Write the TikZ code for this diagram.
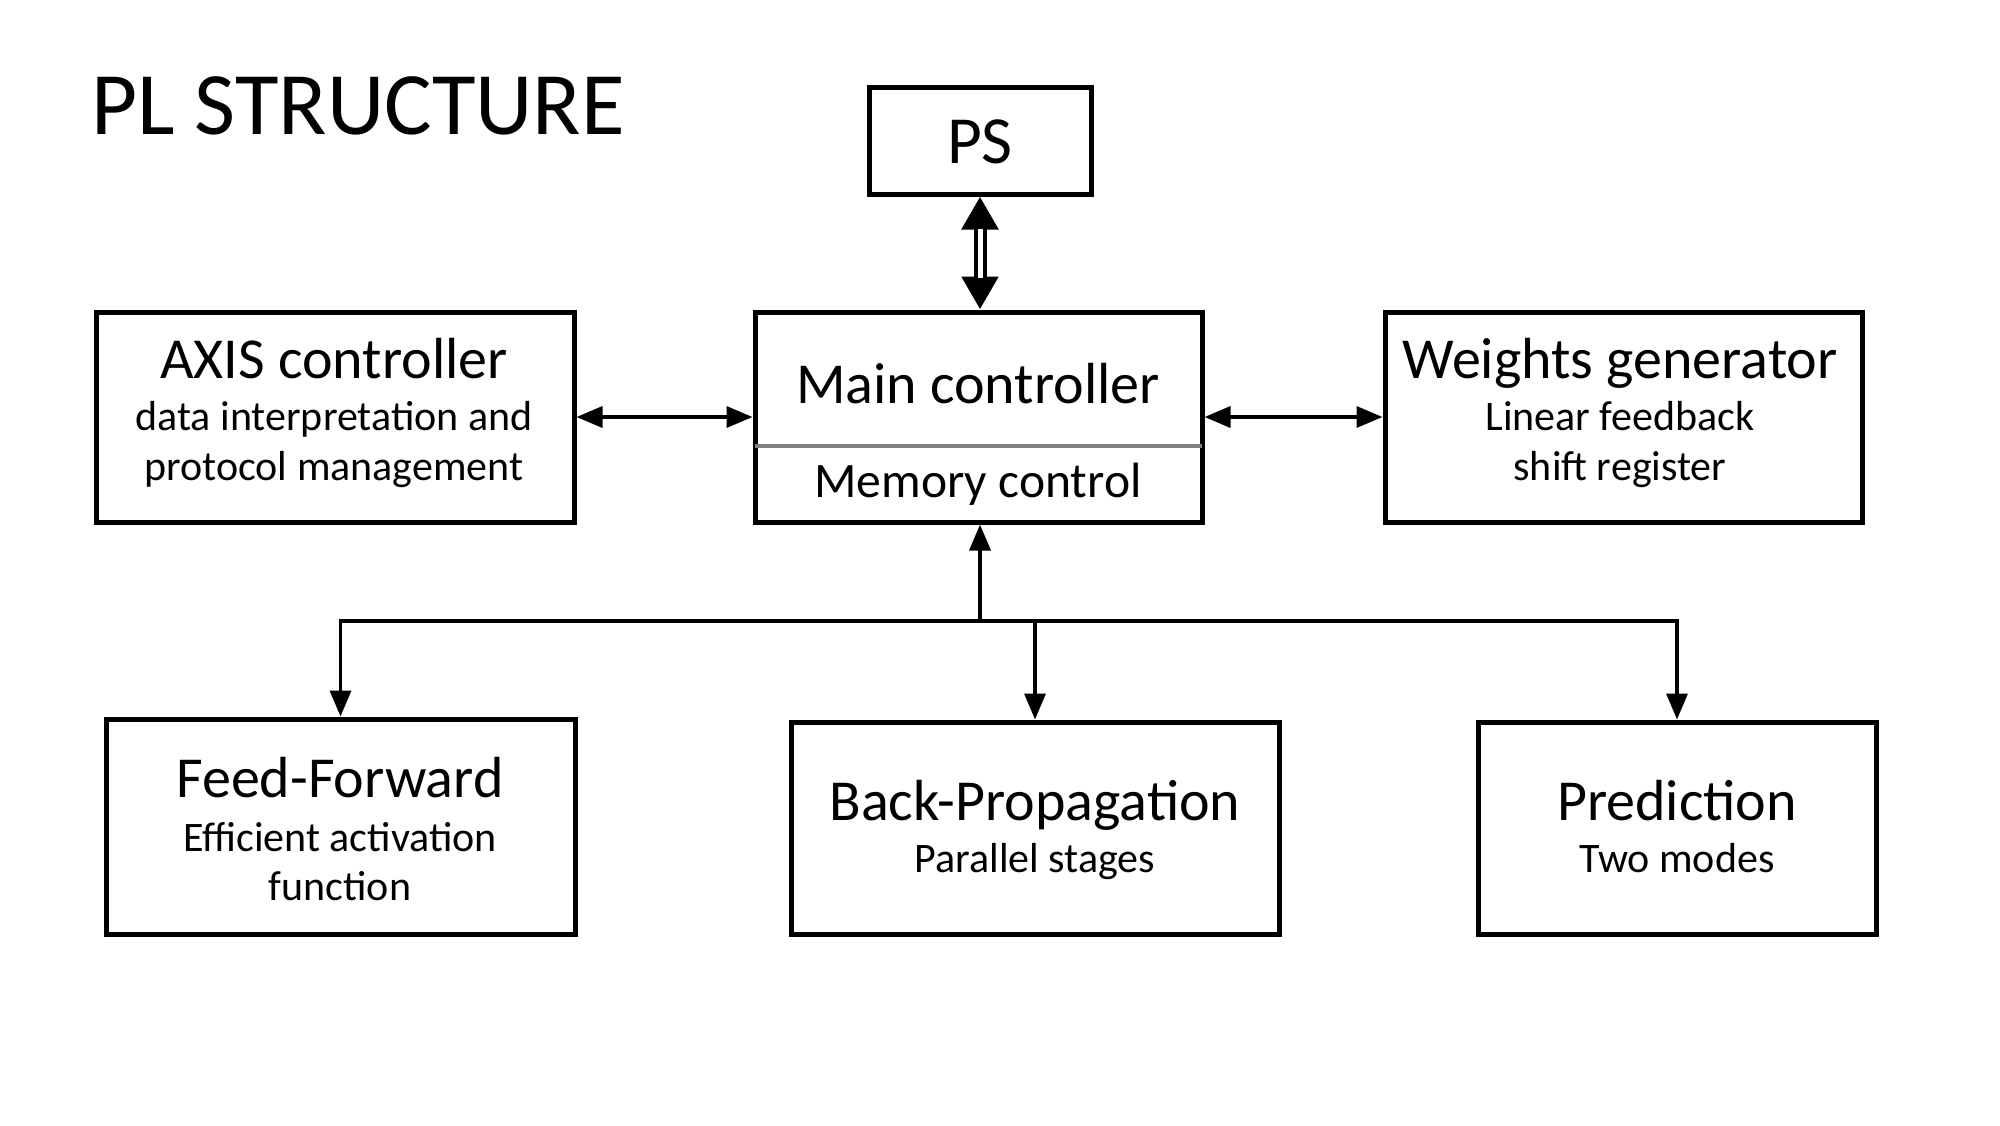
\documentclass[tikz,border=0pt]{standalone}
\usepackage{fontspec}
\setmainfont{Carlito}
\usetikzlibrary{arrows.meta}
\begin{document}
\begin{tikzpicture}[x=0.5pt,y=-0.5pt,
  box/.style={draw=black, line width=2.5pt, fill=white, inner sep=0pt},
  head/.style={anchor=base, font=\fontsize{29}{32}\selectfont},
  sub/.style={anchor=base, font=\fontsize{21}{25}\selectfont},
  arr/.style={line width=1.75pt, -{Triangle[length=13pt,width=10.5pt]}},
  barr/.style={line width=1.75pt, {Triangle[length=13pt,width=10.5pt]}-{Triangle[length=13pt,width=10.5pt]}}]
\useasboundingbox[fill=white] (0,0) rectangle (2000,1125);
\node[anchor=base west, font=\fontsize{44.6}{50}\selectfont] (title) at (84,134) {PL STRUCTURE};
% boxes
\node[box, minimum width=111pt, minimum height=53.5pt] (ps) at (980,140.5) {};
\node[font=\fontsize{33.7}{38}\selectfont, anchor=base] (pst) at (980,163) {PS};
\node[box, minimum width=239pt, minimum height=105pt] (axis) at (335,417) {};
\node[box, minimum width=223.5pt, minimum height=105pt] (main) at (978.5,417) {};
\node[box, minimum width=238.5pt, minimum height=105pt] (wg) at (1623.5,417) {};
\node[box, minimum width=234.5pt, minimum height=107.5pt] (ff) at (340.5,826.5) {};
\node[box, minimum width=244pt, minimum height=106pt] (bp) at (1035,828) {};
\node[box, minimum width=199pt, minimum height=106pt] (pr) at (1677,828) {};
% separator in main
\draw[draw=gray, line width=2pt] ([xshift=1.25pt]main.west |- 0,446) coordinate (sepl) -- ([xshift=-1.25pt]main.east |- 0,446) coordinate (sepr);
% texts
\node[head] (axh) at (334,378) {AXIS controller};
\node[sub] (ax1) at (334,430) {data interpretation and};
\node[sub] (ax2) at (334,480) {protocol management};
\node[head] (mh) at (978,403) {Main controller};
\node[sub, font=\fontsize{24.8}{28}\selectfont] (m1) at (978,497) {Memory control};
\node[head] (wh) at (1620,378) {Weights generator};
\node[sub] (w1) at (1620,430) {Linear feedback};
\node[sub] (w2) at (1620,480) {shift register};
\node[head] (fh) at (340,797) {Feed-Forward};
\node[sub] (f1) at (340,851) {Efficient activation};
\node[sub] (f2) at (340,900) {function};
\node[head] (bh) at (1035,820) {Back-Propagation};
\node[sub] (b1) at (1035,872) {Parallel stages};
\node[head] (ph) at (1677,820) {Prediction};
\node[sub] (p1) at (1677,872) {Two modes};
% PS double arrow
\draw[line width=6.5pt, {Triangle[length=16.5pt,width=17.5pt]}-{Triangle[length=16.5pt,width=17.5pt]}] (ps.south) -- (ps.south |- main.north);
\draw[white, line width=2.5pt] ([yshift=-16pt]ps.south) -- ([yshift=16pt]ps.south |- main.north);
% side arrows
\draw[barr] (axis.east) -- (main.west);
\draw[barr] (main.east) -- (wg.west);
% bus
\coordinate (bus) at (980,621);
\draw[arr] (bus) -- (bus |- main.south);
\draw[arr] (bus) -| (ff.north);
\draw[arr] (bus) -| (bp.north);
\draw[arr] (bus) -| (pr.north);
\end{tikzpicture}
\end{document}
